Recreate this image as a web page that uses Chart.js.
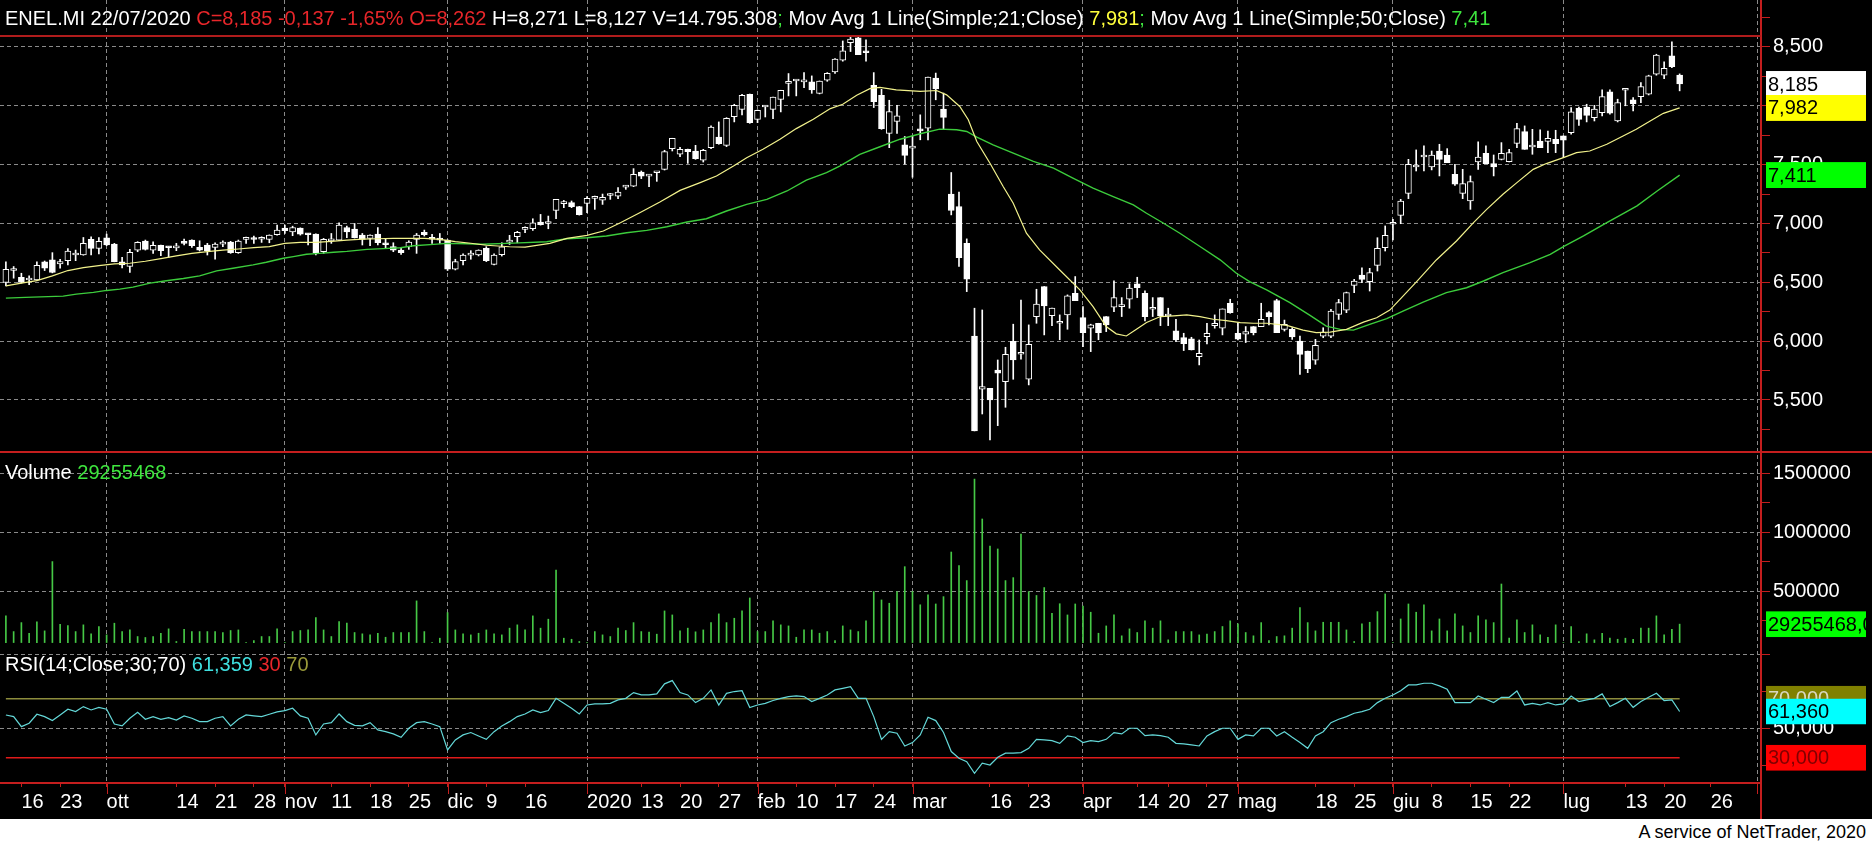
<!DOCTYPE html>
<html>
<head>
  <meta charset="utf-8">
  <title>ENEL.MI</title>
  <script src="https://cdn.jsdelivr.net/npm/chart.js@4"></script>
  <style>
    body { margin: 0; background: #fff; font-family: "Liberation Sans", Arial, sans-serif; }
    #wrap { position: relative; width: 1872px; height: 819px; background: #000; }
    #chart { position: absolute; left: 0; top: 0; }
    .title { position: absolute; left: 5px; font-size: 20px; line-height: 20px; white-space: pre; color: #fff; }
    #head { top: 8px; }
    #volTitle { top: 462px; }
    #rsiTitle { top: 654px; }
    .r { color: #e8262a; } .g { color: #3ee63e; } .y { color: #ffff3c; }
    .c { color: #3fe0e0; } .o { color: #9a9a3a; }
    #footer { position: absolute; top: 823px; right: 6px; font-size: 18px; line-height: 18px; color: #000; }
  </style>
</head>
<body>
  <div id="wrap">
    <canvas id="chart" width="1872" height="819"></canvas>
    <div class="title" id="head">ENEL.MI 22/07/2020 <span class="r">C=8,185 -0,137 -1,65% O=8,262</span> H=8,271 L=8,127 V=14.795.308<span class="g">;</span> Mov Avg 1 Line(Simple;21;Close) <span class="y">7,981</span><span class="g">;</span> Mov Avg 1 Line(Simple;50;Close) <span class="g">7,41</span></div>
    <div class="title" id="volTitle">Volume <span class="g">29255468</span></div>
    <div class="title" id="rsiTitle">RSI(14;Close;30;70) <span class="c">61,359</span> <span class="r">30</span> <span class="o">70</span></div>
  </div>
  <div id="footer">A service of NetTrader, 2020</div>
  <script>
    // candele giornaliere 12/09/2019 - 22/07/2020 (indice = giorno di borsa)
    const opens = [
      6.498,6.600,6.543,6.520,6.521,6.673,6.690,6.656,6.684,6.732,
      6.732,6.865,6.789,6.879,6.825,6.673,6.634,6.774,6.851,6.774,
      6.814,6.795,6.793,6.845,6.859,6.797,6.817,6.797,6.825,6.842,
      6.752,6.865,6.866,6.866,6.865,6.904,6.960,6.929,6.960,6.905,
      6.910,6.760,6.852,6.859,6.966,6.952,6.901,6.873,6.910,6.820,
      6.803,6.774,6.803,6.865,6.924,6.868,6.860,6.859,6.611,6.684,
      6.731,6.732,6.789,6.653,6.734,6.842,6.887,6.950,6.955,7.012,
      7.000,7.111,7.168,7.177,7.143,7.171,7.213,7.199,7.238,7.233,
      7.309,7.318,7.437,7.403,7.431,7.460,7.636,7.588,7.630,7.616,
      7.537,7.644,7.735,7.664,7.908,7.970,8.098,7.885,7.990,7.970,
      8.055,8.191,8.211,8.203,8.203,8.106,8.217,8.288,8.387,8.537,
      8.577,8.452,8.174,8.089,7.766,7.868,7.668,7.640,7.788,7.810,
      8.235,7.972,7.249,7.144,6.832,6.044,5.591,5.600,5.755,5.656,
      5.998,5.889,5.676,6.209,6.464,6.217,6.152,6.223,6.407,6.200,
      6.110,6.152,6.209,6.288,6.294,6.356,6.487,6.407,6.271,6.370,
      6.214,6.087,6.030,6.019,5.869,6.039,6.132,6.110,6.322,6.067,
      6.059,6.124,6.124,6.243,6.345,6.100,6.100,6.001,5.916,5.839,
      6.043,6.043,6.228,6.264,6.474,6.562,6.505,6.644,6.794,6.993,
      7.069,7.256,7.480,7.565,7.480,7.616,7.582,7.418,7.256,7.191,
      7.523,7.596,7.509,7.545,7.526,7.681,7.781,7.650,7.701,7.698,
      7.715,7.744,7.772,7.979,7.990,7.900,7.942,8.118,7.871,8.132,
      8.050,8.078,8.098,8.268,8.260,8.424,8.262
    ];
    const highs = [
      6.673,6.634,6.577,6.555,6.673,6.681,6.752,6.696,6.786,6.774,
      6.881,6.887,6.881,6.910,6.831,6.712,6.780,6.845,6.859,6.845,
      6.817,6.803,6.831,6.867,6.862,6.853,6.831,6.836,6.853,6.848,
      6.859,6.884,6.893,6.887,6.903,6.986,6.986,6.977,6.963,6.915,
      6.913,6.873,6.915,7.005,6.977,7.000,6.915,6.904,6.966,6.873,
      6.836,6.789,6.853,6.915,6.944,6.907,6.915,6.862,6.696,6.741,
      6.769,6.776,6.803,6.741,6.836,6.899,6.933,6.972,7.040,7.077,
      7.063,7.205,7.196,7.191,7.145,7.228,7.233,7.250,7.256,7.304,
      7.324,7.466,7.446,7.417,7.437,7.622,7.724,7.647,7.632,7.664,
      7.630,7.829,7.863,7.899,8.013,8.098,8.100,7.965,8.000,8.075,
      8.132,8.274,8.220,8.282,8.254,8.211,8.282,8.401,8.551,8.594,
      8.590,8.560,8.282,8.140,8.047,8.004,7.739,7.745,7.923,8.244,
      8.278,8.108,7.433,7.266,6.869,6.280,6.265,5.600,5.840,5.948,
      6.144,6.350,6.138,6.441,6.464,6.280,6.223,6.393,6.549,6.294,
      6.144,6.152,6.209,6.512,6.370,6.487,6.543,6.427,6.370,6.370,
      6.280,6.186,6.067,6.033,6.010,6.152,6.223,6.274,6.356,6.152,
      6.124,6.124,6.322,6.251,6.356,6.179,6.114,6.043,5.916,6.015,
      6.114,6.270,6.355,6.417,6.525,6.624,6.619,6.879,6.979,7.035,
      7.205,7.545,7.625,7.659,7.616,7.673,7.636,7.503,7.460,7.404,
      7.693,7.659,7.582,7.687,7.630,7.851,7.829,7.800,7.795,7.786,
      7.792,7.744,7.985,7.990,8.013,8.004,8.135,8.135,8.056,8.141,
      8.070,8.197,8.260,8.438,8.373,8.543,8.271
    ];
    const lows = [
      6.470,6.535,6.493,6.479,6.515,6.600,6.580,6.620,6.648,6.684,
      6.730,6.732,6.741,6.811,6.674,6.622,6.583,6.760,6.774,6.746,
      6.727,6.712,6.769,6.817,6.797,6.766,6.732,6.696,6.803,6.746,
      6.746,6.831,6.831,6.839,6.836,6.900,6.915,6.896,6.901,6.817,
      6.732,6.746,6.831,6.853,6.879,6.876,6.817,6.811,6.817,6.789,
      6.760,6.738,6.780,6.746,6.893,6.831,6.831,6.600,6.605,6.648,
      6.696,6.724,6.676,6.648,6.723,6.822,6.836,6.921,6.941,6.986,
      6.955,7.040,7.134,7.134,7.071,7.091,7.120,7.162,7.205,7.211,
      7.290,7.313,7.381,7.313,7.358,7.454,7.616,7.568,7.511,7.545,
      7.522,7.636,7.673,7.653,7.863,7.922,7.851,7.857,7.905,7.891,
      7.948,8.084,8.084,8.155,8.106,8.101,8.208,8.276,8.379,8.461,
      8.435,8.379,7.985,7.800,7.644,7.766,7.504,7.393,7.711,7.711,
      8.051,7.801,7.073,6.634,6.421,5.237,5.381,5.160,5.282,5.438,
      5.676,5.846,5.628,6.152,6.053,6.132,6.012,6.101,6.345,5.954,
      5.911,6.012,6.081,6.251,6.209,6.280,6.370,6.172,6.209,6.132,
      6.132,5.996,5.920,5.925,5.798,5.976,6.110,6.053,6.237,6.010,
      5.988,6.053,6.124,6.138,6.073,6.086,6.015,5.718,5.732,5.803,
      6.029,6.029,6.185,6.242,6.412,6.497,6.426,6.596,6.766,6.860,
      6.998,7.211,7.446,7.446,7.455,7.404,7.517,7.324,7.211,7.120,
      7.460,7.509,7.404,7.540,7.523,7.645,7.630,7.588,7.645,7.602,
      7.602,7.560,7.758,7.834,7.863,7.871,7.914,7.928,7.863,8.000,
      7.956,8.027,8.092,8.260,8.231,8.325,8.127
    ];
    const closes = [
      6.611,6.605,6.498,6.521,6.645,6.620,6.583,6.676,6.766,6.733,
      6.831,6.789,6.848,6.817,6.676,6.648,6.755,6.839,6.780,6.814,
      6.769,6.794,6.796,6.831,6.811,6.774,6.769,6.825,6.842,6.752,
      6.851,6.881,6.864,6.868,6.901,6.944,6.938,6.966,6.910,6.904,
      6.752,6.865,6.854,6.986,6.929,6.879,6.865,6.901,6.836,6.819,
      6.774,6.752,6.842,6.901,6.904,6.866,6.858,6.611,6.676,6.732,
      6.733,6.774,6.684,6.732,6.802,6.843,6.924,6.951,7.006,6.989,
      7.001,7.205,7.169,7.143,7.074,7.213,7.214,7.222,7.239,7.267,
      7.310,7.417,7.403,7.404,7.432,7.610,7.724,7.630,7.610,7.551,
      7.622,7.820,7.678,7.894,8.004,8.089,7.857,7.962,7.991,8.075,
      8.132,8.192,8.212,8.204,8.135,8.211,8.276,8.396,8.466,8.566,
      8.435,8.451,8.035,7.806,7.950,7.914,7.578,7.641,7.787,8.244,
      8.144,7.901,7.110,6.710,6.526,5.237,5.614,5.500,5.727,5.889,
      5.840,5.890,5.973,6.314,6.299,6.280,6.153,6.385,6.345,6.073,
      6.138,6.073,6.138,6.370,6.295,6.450,6.455,6.209,6.272,6.214,
      6.215,6.011,5.979,5.925,5.897,6.067,6.152,6.274,6.243,6.016,
      6.081,6.073,6.186,6.209,6.073,6.143,6.035,5.887,5.766,5.964,
      6.077,6.256,6.327,6.412,6.511,6.525,6.582,6.789,6.899,6.994,
      7.191,7.503,7.481,7.582,7.582,7.545,7.517,7.333,7.339,7.356,
      7.565,7.509,7.480,7.596,7.602,7.806,7.630,7.667,7.645,7.724,
      7.679,7.707,7.948,7.885,7.919,7.971,8.078,7.937,8.027,8.133,
      8.019,8.163,8.254,8.430,8.319,8.333,8.185
    ];
    // volumi (migliaia)
    const volumes = [
      292,159,235,145,241,165,752,221,210,159,
      216,140,202,131,230,159,173,117,109,117,
      145,182,75,179,159,159,159,159,151,168,
      173,66,83,117,117,182,66,159,168,173,
      278,173,117,244,230,151,140,131,145,111,
      151,151,151,419,159,66,103,320,173,140,
      131,145,173,140,131,188,216,173,292,188,
      264,681,103,94,75,66,159,131,117,188,
      168,235,159,154,137,334,300,165,188,157,
      173,235,309,235,272,334,444,159,159,250,
      216,207,111,173,173,145,159,83,207,173,
      159,250,498,
      427,399,498,709,498,386,470,393,455,833,
      719,591,1451,1113,884,859,591,616,986,498,
      465,532,314,395,300,393,376,323,145,207,
      300,123,182,151,250,188,250,89,159,159,
      159,131,137,159,202,250,224,151,123,235,
      83,117,123,188,363,235,165,238,238,238,
      173,75,224,238,328,478,66,266,393,323,
      386,165,266,165,309,207,151,292,258,235,
      562,103,258,151,216,131,111,216,66,202,
      75,140,89,145,103,94,103,94,188,188,
      292,131,179,222
    ];
    const rsiValues = [
      59.0,57.9,51.1,53.4,59.5,57.9,55.2,59.0,62.9,61.3,
      64.7,62.4,64.2,62.9,52.9,51.6,56.8,60.8,56.1,57.9,
      56.1,57.2,55.6,58.4,56.8,54.5,54.5,56.8,57.9,51.6,
      56.1,59.0,58.4,57.9,59.5,61.1,62.0,63.6,58.4,56.8,
      45.5,52.9,53.8,59.7,54.5,52.0,51.6,53.8,48.9,47.7,
      46.2,43.9,50.0,53.8,54.5,52.9,51.1,35.3,42.1,45.5,
      47.1,44.8,42.5,47.7,51.6,54.5,57.9,59.7,62.4,60.6,
      62.0,70.3,66.9,63.6,59.7,65.8,66.5,66.5,66.9,69.2,
      70.3,74.2,72.6,72.6,73.3,80.1,82.3,74.2,72.6,67.4,
      70.3,76.0,65.8,73.7,74.9,75.5,64.0,65.8,66.9,68.8,
      70.3,71.5,71.9,71.5,68.1,70.3,72.6,76.0,77.1,78.2,
      70.3,70.3,57.9,
      42.5,47.7,46.6,38.0,40.3,45.5,57.5,55.2,47.1,34.2,
      29.7,27.4,19.5,26.3,25.1,30.3,33.1,33.1,33.5,36.4,
      42.5,42.1,41.6,39.8,44.8,43.9,40.3,41.6,41.0,42.5,
      47.1,46.2,50.0,50.0,45.0,45.5,45.0,43.9,39.8,39.4,
      38.7,38.0,44.8,47.7,50.0,50.0,42.5,45.5,44.8,50.0,
      50.0,44.8,47.7,43.9,40.3,36.4,44.8,47.7,53.8,56.1,
      57.9,60.2,61.3,62.9,67.4,70.3,72.6,75.5,79.4,79.4,
      80.5,80.5,78.7,76.4,67.4,67.4,67.4,71.9,69.7,67.4,
      71.0,71.0,75.3,65.8,66.9,65.8,67.4,65.8,66.5,71.9,
      68.1,69.2,70.3,73.3,64.7,67.4,70.3,64.2,68.1,71.0,
      73.7,68.8,69.2,61.36
    ];
    // medie mobili: [indice, valore]
    const ma21 = [
      [0,6.470],[2,6.493],[4,6.515],[6,6.555],[8,6.600],[10,6.625],[12,6.642],[14,6.656],[16,6.662],[18,6.679],
      [20,6.701],[22,6.724],[24,6.746],[26,6.760],[28,6.774],[30,6.783],[32,6.794],[34,6.803],[36,6.831],[38,6.839],
      [40,6.839],[42,6.848],[44,6.859],[46,6.867],[48,6.870],[50,6.873],[52,6.873],[54,6.873],[56,6.865],[58,6.845],
      [60,6.832],[62,6.815],[65,6.802],[67,6.799],[70.2,6.831],[72.4,6.873],[75,6.899],[77.1,6.936],[79.3,7.006],[81.8,7.091],
      [84.4,7.182],[87,7.281],[89.6,7.347],[91.7,7.403],[93.9,7.488],[95.6,7.559],[97.7,7.630],[99.9,7.715],[102,7.806],[104.2,7.885],
      [106.4,7.976],[108,8.013],[109.8,8.089],[111.5,8.146],[112.8,8.157],[114.9,8.136],[118,8.122],[120.1,8.130],[121.4,8.093],[123.1,7.994],
      [124.2,7.881],[125.3,7.697],[127,7.512],[128.7,7.314],[130,7.172],[131.7,6.917],[133.4,6.776],[136,6.605],[138.6,6.436],[140.3,6.294],
      [142,6.124],[143.3,6.062],[144.6,6.044],[145.9,6.101],[147.2,6.158],[149,6.209],[150.7,6.215],[152.4,6.223],[154.1,6.209],[155.8,6.186],
      [157.5,6.175],[159.3,6.158],[161,6.152],[162.7,6.152],[165.3,6.134],[167.4,6.094],[169.1,6.072],[170.9,6.077],[173,6.100],[175.2,6.162],
      [176.9,6.199],[178.6,6.264],[180.3,6.383],[182,6.502],[184.6,6.690],[187.2,6.851],[189.4,7.007],[191.1,7.120],[193.2,7.248],[195,7.347],
      [197.1,7.460],[198.8,7.509],[201,7.560],[202.7,7.602],[204.4,7.616],[206.6,7.673],[208.7,7.744],[210.4,7.800],[212.2,7.871],[213.9,7.936],
      [216,7.982]
    ];
    const ma50 = [
      [0,6.366],[2.5,6.372],[7.4,6.383],[9.1,6.400],[11.3,6.414],[13,6.431],[14.7,6.442],[16.4,6.459],[18.6,6.493],[20.7,6.513],
      [22.9,6.532],[25,6.555],[27.2,6.597],[29.3,6.620],[31.9,6.648],[33.6,6.670],[35.8,6.704],[37.1,6.718],[38.8,6.738],[40.5,6.746],
      [42.3,6.755],[44,6.763],[46.6,6.780],[48.7,6.786],[50.9,6.794],[52.6,6.811],[55.2,6.822],[56.9,6.831],[59.5,6.828],[61.5,6.824],
      [65.5,6.833],[69.8,6.845],[72.4,6.870],[75,6.879],[77.5,6.893],[80.1,6.921],[82.7,6.941],[85.3,6.972],[87.9,7.012],[90.4,7.040],
      [93,7.106],[95.6,7.162],[98.2,7.205],[100.8,7.276],[103.3,7.369],[105.9,7.432],[107.6,7.488],[110.2,7.588],[112.8,7.652],[115.4,7.716],
      [118,7.762],[120.5,7.802],[122.7,7.796],[124,7.782],[125.3,7.734],[127.4,7.668],[130,7.597],[132.6,7.527],[135.2,7.470],[137.7,7.385],
      [140.3,7.300],[142.9,7.229],[145.5,7.158],[147.2,7.087],[149.4,7.002],[151.5,6.917],[154.1,6.804],[156.7,6.691],[158.8,6.577],[160.5,6.506],
      [162.7,6.436],[165.7,6.327],[168.3,6.219],[170.4,6.128],[172.2,6.100],[173.9,6.094],[176,6.143],[178.2,6.191],[180.3,6.256],[182.9,6.332],
      [185.9,6.412],[188.5,6.454],[190.7,6.511],[193.2,6.582],[196.7,6.667],[199.3,6.738],[201,6.803],[203.6,6.894],[206.2,6.993],[208.3,7.069],
      [210.5,7.149],[213.1,7.276],[216,7.411]
    ];
    // etichette asse tempo
    const xTickIdx  = [2,7,13,22,27,32,36,42,47,52,57,62,67,75,82,87,92,97,102,107,112,117,127,132,139,146,150,155,159,169,174,179,184,189,194,201,209,214,220];
    const xTickText = ['16','23','ott','14','21','28','nov','11','18','25','dic','9','16','2020','13','20','27','feb','10','17','24','mar','16','23','apr','14','20','27','mag','18','25','giu','8','15','22','lug','13','20','26'];
    const monthIdx = [13,36,57,75,97,117,139,159,179,201,226];
    const priceTicks = [5.25,5.5,5.75,6,6.25,6.5,6.75,7,7.25,7.5,7.75,8,8.25,8.5,8.75];
    const volTicks = [250000,500000,750000,1000000,1250000,1500000];
    const rsiTicks = [25,50,75,100];
    const rsiLow = 30, rsiHigh = 70;
    const topLevel = 8.593;
    const volBase = 66;

    const RED = '#c41e1e';
    const GRID = '#8a8a8a';
    Chart.defaults.font.family = '"Liberation Sans", Arial, sans-serif';
    Chart.defaults.font.size = 20;
    Chart.defaults.color = '#fff';

    const idx = closes.map((c, i) => i);
    const fmt = (v, d) => v.toFixed(d).replace('.', ',');
    const allXTicks = [...new Set([...xTickIdx, ...monthIdx])].sort((a, b) => a - b);

    const overlay = {
      id: 'overlay',
      afterDraw(chart) {
        const ctx = chart.ctx;
        const {yPrice, yVol, yRsi, x} = chart.scales;
        const area = chart.chartArea;
        ctx.save();
        // linea livello massimo
        ctx.strokeStyle = '#b01c1c';
        ctx.lineWidth = 2;
        let y = yPrice.getPixelForValue(topLevel);
        ctx.beginPath(); ctx.moveTo(area.left, y); ctx.lineTo(area.right, y); ctx.stroke();
        // separatore pannelli
        ctx.strokeStyle = RED;
        ctx.beginPath(); ctx.moveTo(0, yPrice.bottom); ctx.lineTo(1872, yPrice.bottom); ctx.stroke();
        ctx.beginPath(); ctx.moveTo(area.right, area.bottom); ctx.lineTo(area.right, 819); ctx.stroke();
        // tacche mese piu lunghe
        ctx.lineWidth = 1;
        monthIdx.forEach(m => {
          const px = Math.round(x.getPixelForValue(m)) + 0.5;
          ctx.beginPath(); ctx.moveTo(px, area.bottom); ctx.lineTo(px, area.bottom + 11); ctx.stroke();
        });
        // etichette valore
        const tag = (scale, value, bg, fg, text) => {
          const ty = scale.getPixelForValue(value);
          ctx.save();
          ctx.beginPath(); ctx.rect(1766, ty - 13, 100, 26); ctx.clip();
          ctx.fillStyle = bg; ctx.fillRect(1766, ty - 13, 100, 26);
          ctx.fillStyle = fg;
          ctx.font = '20px "Liberation Sans", Arial, sans-serif';
          ctx.textBaseline = 'middle';
          ctx.fillText(text, 1768, ty + 1);
          ctx.restore();
        };
        const last = closes.length - 1;
        tag(yPrice, closes[last], '#ffffff', '#000', fmt(closes[last], 3));
        tag(yPrice, ma21[ma21.length - 1][1], '#ffff00', '#000', fmt(ma21[ma21.length - 1][1], 3));
        tag(yPrice, ma50[ma50.length - 1][1], '#00ff00', '#000', fmt(ma50[ma50.length - 1][1], 3));
        tag(yVol, volumes[last] * 1000, '#00ff00', '#000', '29255468,0');
        tag(yRsi, rsiHigh, '#808000', '#d8d8c0', fmt(rsiHigh, 3));
        tag(yRsi, rsiValues[last], '#00ffff', '#000', fmt(rsiValues[last], 3));
        tag(yRsi, rsiLow, '#ff0000', '#800000', fmt(rsiLow, 3));
        ctx.restore();
      }
    };

    const yAxis = (weight, min, max, ticks, isMajor, label) => ({
      type: 'linear', position: 'right', stack: 'panes', stackWeight: weight, min: min, max: max,
      afterBuildTicks: s => { s.ticks = ticks.map(v => ({value: v})); },
      afterFit: s => { s.width = 111; s.paddingTop = 0; s.paddingBottom = 0; },
      ticks: { color: '#fff', padding: 3, autoSkip: false, callback: v => isMajor(v) ? label(v) : '' },
      grid: { color: c => isMajor(c.tick.value) ? GRID : 'transparent', tickLength: 9, tickColor: RED, lineWidth: 1 },
      border: { color: RED, width: 2, dash: [4, 3] }
    });

    new Chart(document.getElementById('chart'), {
      type: 'bar',
      data: {
        datasets: [
          { type: 'line', data: ma21.map(p => ({x: p[0], y: p[1]})), yAxisID: 'yPrice',
            borderColor: '#f2f28c', borderWidth: 1.2, pointRadius: 0, order: 0 },
          { type: 'line', data: ma50.map(p => ({x: p[0], y: p[1]})), yAxisID: 'yPrice',
            borderColor: '#3ccc3c', borderWidth: 1.4, pointRadius: 0, order: 0 },
          { data: idx.map(i => ({x: i, y: [opens[i], closes[i]]})), yAxisID: 'yPrice',
            backgroundColor: idx.map(i => closes[i] >= opens[i] ? '#000' : '#fff'),
            borderColor: '#fff', borderWidth: 1, borderSkipped: false,
            barThickness: 6, minBarLength: 2, grouped: false, order: 1 },
          { data: idx.map(i => ({x: i, y: [lows[i], highs[i]]})), yAxisID: 'yPrice',
            backgroundColor: '#fff', barThickness: 1, grouped: false, order: 2 },
          { data: idx.map(i => ({x: i, y: volumes[i] * 1000})), yAxisID: 'yVol', base: volBase * 1000,
            backgroundColor: '#46c846', barThickness: 1, grouped: false, order: 3 },
          { type: 'line', data: idx.map(i => ({x: i, y: rsiValues[i]})), yAxisID: 'yRsi',
            borderColor: '#64d8d8', borderWidth: 1.2, pointRadius: 0, order: 0 },
          { type: 'line', data: [{x: 0, y: rsiHigh}, {x: closes.length - 1, y: rsiHigh}], yAxisID: 'yRsi',
            borderColor: '#8c8c3c', borderWidth: 1.5, pointRadius: 0, order: 4 },
          { type: 'line', data: [{x: 0, y: rsiLow}, {x: closes.length - 1, y: rsiLow}], yAxisID: 'yRsi',
            borderColor: '#e01a1a', borderWidth: 1.5, pointRadius: 0, order: 4 }
        ]
      },
      options: {
        responsive: false,
        animation: false,
        layout: { padding: 0 },
        plugins: { legend: { display: false }, tooltip: { enabled: false } },
        scales: {
          x: {
            type: 'linear', min: -0.76, max: 226.5, offset: false,
            afterBuildTicks: s => { s.ticks = allXTicks.map(v => ({value: v})); },
            afterFit: s => { s.height = 36; s.paddingLeft = 0; s.paddingRight = 0; },
            ticks: {
              color: '#fff', align: 'start', autoSkip: false, maxRotation: 0, padding: 3,
              callback: v => { const k = xTickIdx.indexOf(v); return k >= 0 ? xTickText[k] : ''; }
            },
            grid: {
              offset: false, lineWidth: 1, tickLength: 4,
              color: c => monthIdx.includes(c.tick.value) ? GRID : 'transparent',
              tickColor: c => xTickIdx.includes(c.tick.value) ? RED : 'transparent'
            },
            border: { color: RED, width: 2, dash: [4, 3] }
          },
          yPrice: yAxis(452, 5.058, 8.899, priceTicks, v => Math.round(v * 1000) % 500 === 0, v => fmt(v, 3)),
          yVol: yAxis(200, -14000, 1680500, volTicks, v => v % 500000 === 0, v => String(v)),
          yRsi: yAxis(131, 12.9, 101.7, rsiTicks, v => v === 50 || v === 100, v => v === 50 ? fmt(v, 3) : '')
        }
      },
      plugins: [overlay]
    });
  </script>
</body>
</html>
